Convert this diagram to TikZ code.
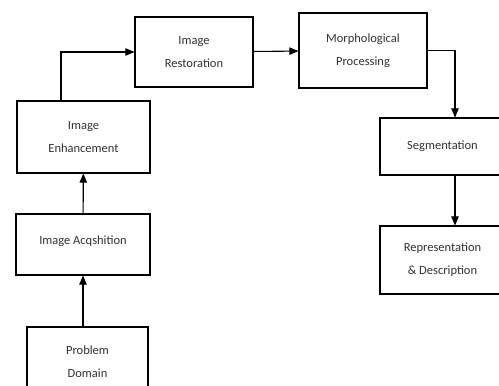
\documentclass[tikz,border=0pt]{standalone}
\usepackage{fontspec}
\setmainfont{Carlito}
\usetikzlibrary{arrows}
\tikzset{>=triangle 45}

\begin{document}
\begin{tikzpicture}[x=1pt,y=1pt]
\tikzset{
  stage/.style={
    draw,
    line width=1.1pt,
    align=center,
    anchor=center,
    inner sep=0pt,
    text=black!80,
    font=\fontsize{12.5}{23}\selectfont
  }
};

\tikzstyle{flow}=[->,line width=1.1pt]

 \useasboundingbox[fill=white] (0,0) rectangle (499,386);

 \node[stage,minimum width=121,minimum height=70] (prob) at (87.5,24) {Problem\\Domain};
 \node[stage,minimum width=134,minimum height=61] (acq) at (83,141.5) {\raisebox{8pt}{Image Acqshition}};
 \node[stage,minimum width=133,minimum height=72] (enh) at (83.5,249) {Image\\Enhancement};
 \node[stage,minimum width=118,minimum height=70] (rest) at (194,334) {Image\\Restoration};
 \node[stage,minimum width=128,minimum height=75] (morph) at (363,335.5) {Morphological\\Processing};
 \node[stage,minimum width=150,minimum height=57] (seg) at (455,239.5) {\hspace*{-25pt}Segmentation};
 \node[stage,minimum width=150,minimum height=68] (rep) at (455,126) {\hspace*{-25pt}Representation\\\hspace*{-25pt}\& Description};

 \coordinate (bend) at (61,0);

  \draw[flow] (prob.north -| acq.south) -- (acq.south);
  \draw[flow] (acq) -- (enh);
  \draw[flow] (enh.north -| bend) |- (rest.west);
  \draw[flow] (rest) -- (morph);
  \draw[flow] (morph.east) -| (seg.north);
  \draw[flow] (seg) -- (rep);
\end{tikzpicture}
\end{document}
